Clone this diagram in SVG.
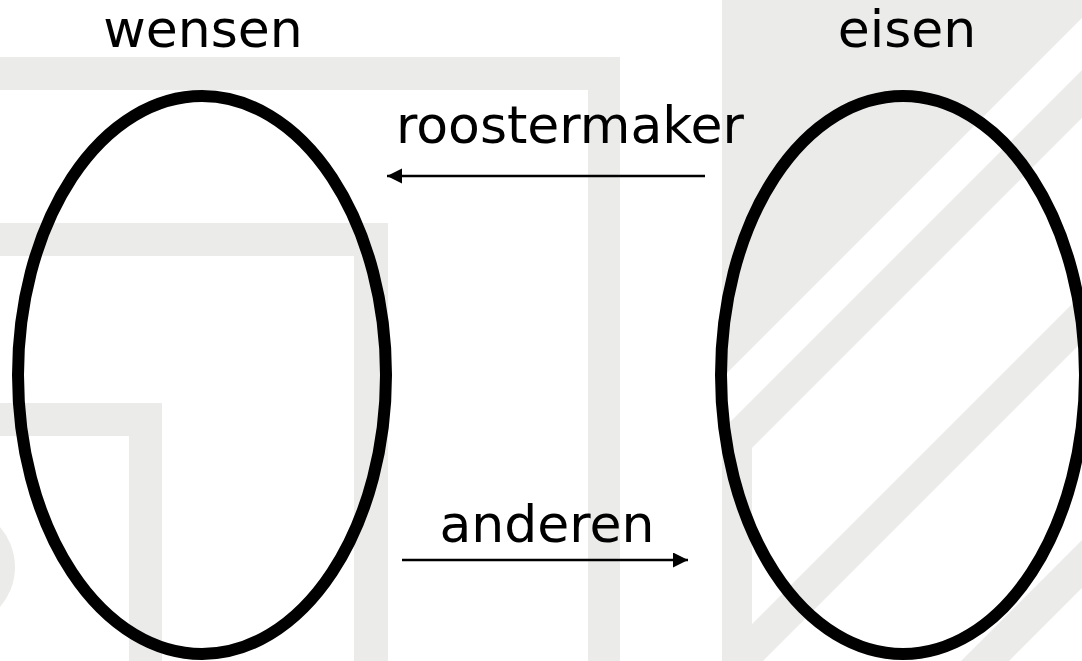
<svg xmlns="http://www.w3.org/2000/svg" width="1082" height="661" viewBox="0 0 1082 661">
  <style>
    .bg { fill: #ebecea; }
    .wh { fill: #ffffff; }
    .oval { fill: none; stroke: #000000; stroke-width: 12; }
    .lbl { font-family: "DejaVu Sans", Verdana, sans-serif; font-size: 52px; fill: #000000; text-anchor: middle; }
    .conn { stroke: #000000; stroke-width: 2.5; fill: none; }
  </style>
  <defs>
    <marker id="arrow" markerUnits="userSpaceOnUse" markerWidth="16" markerHeight="16" refX="15" refY="7.5" orient="auto">
      <path d="M0,0 L15,7.5 L0,15 Z" fill="#000000"/>
    </marker>
  </defs>
  <rect x="0" y="0" width="1082" height="661" fill="#ffffff"/>
  <g id="watermark">
    <path class="bg" d="M0,57 H620 V661 H588 V90 H0 Z"/>
    <path class="bg" d="M0,223 H388 V661 H354 V256 H0 Z"/>
    <path class="bg" d="M0,403 H162 V661 H129 V436 H0 Z"/>
    <circle class="bg" cx="-46" cy="567" r="61"/>
    <rect class="bg" x="722" y="0" width="360" height="661"/>
    <polygon class="wh" points="1082,18 1082,70 722,430 722,378"/>
    <polygon class="wh" points="1082,118 1082,294 752,624 752,448"/>
    <polygon class="wh" points="1082,342 1082,540 961,661 763,661"/>
    <polygon class="wh" points="1082,588 1082,661 1009,661"/>
  </g>
  <g id="node-wensen">
    <ellipse class="oval" cx="202" cy="375" rx="184" ry="279"/>
    <text class="lbl" x="203" y="47">wensen</text>
  </g>
  <g id="node-eisen">
    <ellipse class="oval" cx="903" cy="375" rx="182" ry="279"/>
    <text class="lbl" x="907" y="47">eisen</text>
  </g>
  <g id="connectors">
    <line class="conn" x1="705" y1="176" x2="387" y2="176" marker-end="url(#arrow)"/>
    <text class="lbl" x="570" y="143">roostermaker</text>
    <line class="conn" x1="402" y1="560" x2="688" y2="560" marker-end="url(#arrow)"/>
    <text class="lbl" x="547" y="542">anderen</text>
  </g>
</svg>
